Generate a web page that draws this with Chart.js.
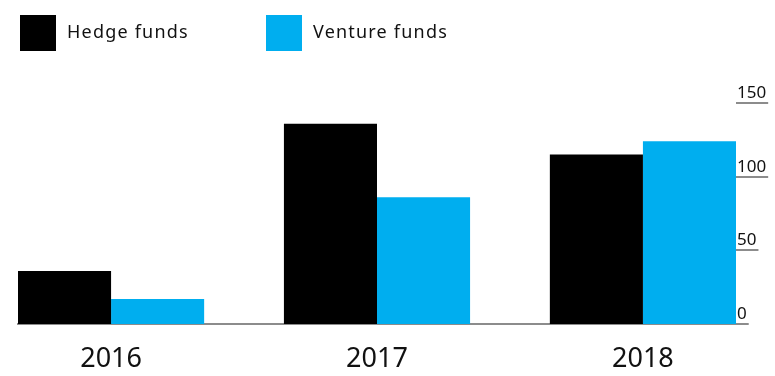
<!DOCTYPE html>
<html>
<head>
<meta charset="utf-8">
<title>Hedge funds vs Venture funds</title>
<script src="https://cdn.jsdelivr.net/npm/chart.js"></script>
<style>
  html, body { margin: 0; padding: 0; background: #fff; }
</style>
</head>
<body>
<canvas id="chart" width="775" height="376"></canvas>
<script>
// Chart data
const years = [2016, 2017, 2018];
const hedgeFunds = [36, 136, 115];
const ventureFunds = [17, 86, 124];
const yTicks = [0, 50, 100, 150];

const FONT = "'Noto Sans', sans-serif";

// Legend drawn by hand (square + label), top left
const squareLegend = {
  id: "squareLegend",
  afterDraw(chart) {
    const ctx = chart.ctx;
    const xs = [20, 266];
    ctx.save();
    ctx.font = "18px " + FONT;
    ctx.letterSpacing = "1.2px";
    ctx.textBaseline = "middle";
    ctx.textAlign = "left";
    chart.data.datasets.forEach((ds, i) => {
      ctx.fillStyle = ds.backgroundColor;
      ctx.fillRect(xs[i], 15, 36, 36);
      ctx.fillStyle = "#111";
      ctx.fillText(ds.label, xs[i] + 47, 33);
    });
    ctx.restore();
  },
};

// Gray underline under each y tick label
const tickUnderline = {
  id: "tickUnderline",
  afterDraw(chart) {
    const ctx = chart.ctx;
    const y = chart.scales.y;
    const area = chart.chartArea;
    ctx.save();
    ctx.font = "17px " + FONT;
    ctx.strokeStyle = "#8c8c8c";
    ctx.lineWidth = 2;
    y.ticks.forEach((t) => {
      const py = Math.round(y.getPixelForValue(t.value));
      const w = ctx.measureText(String(t.value)).width;
      ctx.beginPath();
      ctx.moveTo(area.right, py);
      ctx.lineTo(area.right + 3 + w, py);
      ctx.stroke();
    });
    ctx.restore();
  },
};

new Chart(document.getElementById("chart"), {
  type: "bar",
  data: {
    labels: years,
    datasets: [
      {
        label: "Hedge funds",
        data: hedgeFunds,
        backgroundColor: "#000000",
        borderWidth: 0,
      },
      {
        label: "Venture funds",
        data: ventureFunds,
        backgroundColor: "#00aeef",
        borderWidth: 0,
      },
    ],
  },
  options: {
    responsive: false,
    animation: false,
    events: [],
    layout: { padding: { top: 103, left: 18, right: 0, bottom: 0 } },
    datasets: {
      bar: { categoryPercentage: 0.7, barPercentage: 1 },
    },
    plugins: {
      legend: { display: false },
      tooltip: { enabled: false },
    },
    scales: {
      x: {
        type: "linear",
        offset: false,
        min: years[0] - 0.35,
        max: years[years.length - 1] + 0.35,
        grid: { display: false, drawTicks: false },
        border: { display: true, color: "#8c8c8c", width: 2 },
        ticks: {
          stepSize: 1,
          includeBounds: false,
          maxRotation: 0,
          padding: 19,
          color: "#111",
          font: { family: FONT, size: 27 },
          callback: (v) => String(v),
        },
        afterFit(scale) {
          scale.height = 52;
        },
      },
      y: {
        position: "right",
        min: yTicks[0],
        max: yTicks[yTicks.length - 1],
        grid: { display: false, drawTicks: false },
        border: { display: false },
        ticks: {
          stepSize: yTicks[1] - yTicks[0],
          padding: 1,
          labelOffset: -10,
          color: "#111",
          font: { family: FONT, size: 17 },
        },
        afterFit(scale) {
          scale.width = 39;
        },
      },
    },
  },
  plugins: [squareLegend, tickUnderline],
});
</script>
</body>
</html>
